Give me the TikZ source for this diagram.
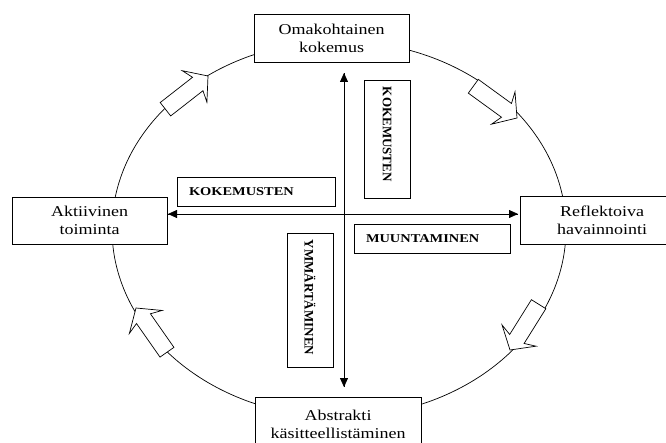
\documentclass[tikz,border=0pt]{standalone}
\usepackage{fontspec}
\setmainfont{Liberation Serif}
\newfontfamily\boxfont[FakeStretch=1.2]{Liberation Serif}
\newfontfamily\vertfont{Liberation Serif}
\usetikzlibrary{arrows.meta}
\newcommand\cyclearrow[3]{\draw[blockarrow, shift={(#1,#2)}, rotate=#3]
  (0,0) -- (-17,20) -- (-13,8.5) -- (-54,8.5) -- (-54,-8.5) -- (-13,-8.5) -- (-17,-20) -- cycle;}
\begin{document}
\begin{tikzpicture}[x=1pt,y=1pt,
  mainbox/.style={draw, fill=white, line width=0.7pt, align=center, inner sep=0pt,
    font=\boxfont\fontsize{15}{18}\selectfont},
  labelbox/.style={draw, fill=white, line width=0.7pt, inner xsep=12pt, inner ysep=0pt,
    minimum height=29, align=left, font=\boxfont\bfseries\fontsize{12}{14}\selectfont},
  vertbox/.style={draw, fill=white, line width=0.7pt, rotate=-90, inner xsep=7pt, inner ysep=0pt,
    minimum height=46, align=left, font=\vertfont\bfseries\fontsize{13}{15}\selectfont},
  axis/.style={line width=0.8pt, -{Triangle[length=9pt,width=8pt]}},
  blockarrow/.style={draw, fill=white, line width=0.7pt, line join=miter},
  cyclepath/.style={draw, line width=0.7pt}]
\clip (0,0) rectangle (666,442);
\fill[white] (0,0) rectangle (666,442);
% cycle ellipse
\path[cyclepath] (339,213) ellipse [x radius=227, y radius=188];
% block arrows on the cycle
\cyclearrow{208}{366}{38}
\cyclearrow{517}{324}{-36}
\cyclearrow{510}{92}{-122}
\cyclearrow{136}{134}{125}
% main boxes
\node[mainbox, minimum width=155, minimum height=48] (top) at (331.5,404) {Omakohtainen\\kokemus};
\node[mainbox, minimum width=155, minimum height=47] (left) at (89.5,221.5) {Aktiivinen\\toiminta};
\node[mainbox, minimum width=164, minimum height=48] (right) at (602,222) {Reflektoiva\\havainnointi};
\node[mainbox, minimum width=166, minimum height=55] (bottom) at (338,17.5) {Abstrakti\\käsitteellistäminen};
% axes
\coordinate (vtop) at (344,369);
\coordinate (vbot) at (344,55);
\coordinate (hleft) at (168,228);
\coordinate (hright) at (518,228);
\draw[axis] (vbot) -- (vtop);
\draw[axis] (vtop) -- (vbot);
\draw[axis] (hright) -- (hleft);
\draw[axis] (hleft) -- (hright);
% label boxes
\node[labelbox, text width=134] (kh) at (256,250.5) {KOKEMUSTEN};
\node[labelbox, text width=132] (mu) at (432,203.5) {MUUNTAMINEN};
\node[vertbox, text width=104] (kv) at (387,303) {KOKEMUSTEN};
\node[vertbox, text width=120] (ym) at (310,142) {YMMÄRTÄMINEN};
\end{tikzpicture}
\end{document}
